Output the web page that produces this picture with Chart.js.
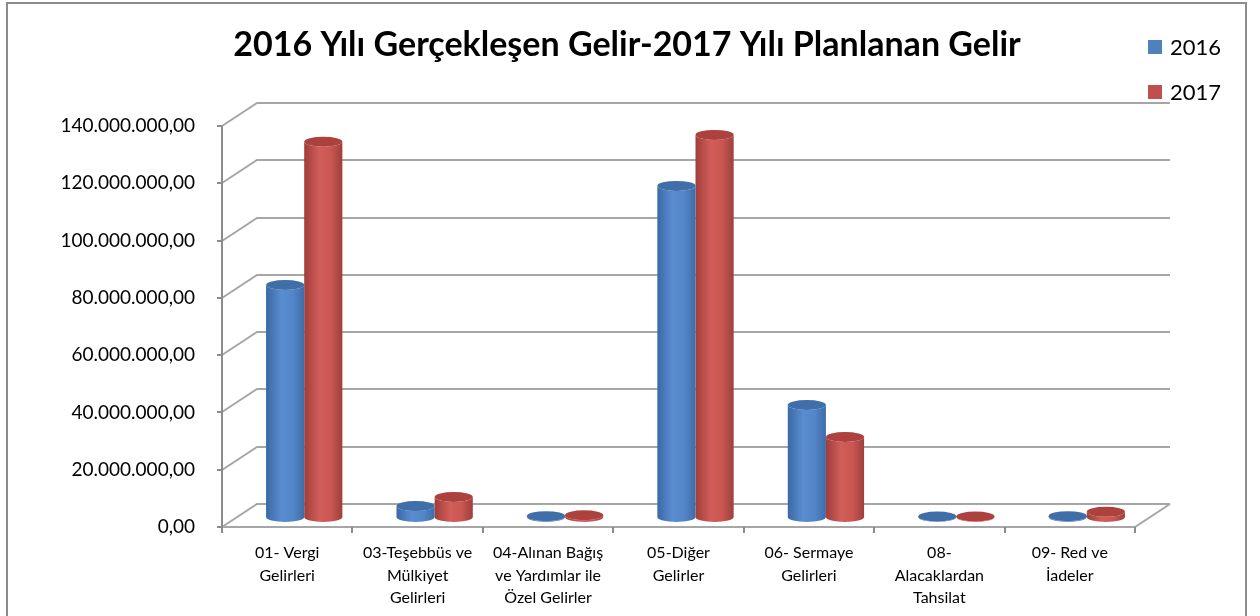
<!DOCTYPE html>
<html>
<head>
<meta charset="utf-8">
<script src="https://cdn.jsdelivr.net/npm/chart.js@4.4.0/dist/chart.umd.min.js"></script>
<style>
  html, body { margin: 0; padding: 0; background: #fff; }
</style>
</head>
<body>
<canvas id="gelirChart" width="1260" height="616"></canvas>
<script>
// Veriler
const chartTitle = '2016 Yılı Gerçekleşen Gelir-2017 Yılı Planlanan Gelir';
const categories = [
    ['01- Vergi', 'Gelirleri'],
    ['03-Teşebbüs ve', 'Mülkiyet', 'Gelirleri'],
    ['04-Alınan Bağış', 've Yardımlar ile', 'Özel Gelirler'],
    ['05-Diğer', 'Gelirler'],
    ['06- Sermaye', 'Gelirleri'],
    ['08-', 'Alacaklardan', 'Tahsilat'],
    ['09- Red ve', 'İadeler']
];
const seriesNames = ['2016', '2017'];
const gelir2016 = [81000000, 3800000, 300000, 115600000, 39100000, 200000, 300000];
const gelir2017 = [131000000, 7000000, 600000, 133400000, 27900000, 200000, 1800000];
const yMax = 140000000;
const yStep = 20000000;

const seriesColors = ['#4F81BD', '#C0504D'];
const bodyStops = [
    ['#3A69A4', '#5A8CD0', '#5386C9', '#3F6CA8'],
    ['#A03D3A', '#D15E5A', '#CA5652', '#9E3F3C']
];
const capColors = ['#3F6EA8', '#AC413E'];

// 3B görünüm için derinlik
const WALL_DX = 35, WALL_DY = -23;
const BAR_DX = 17, BAR_DY = -10;
const CAP_RY = 5;

// 140.000.000,00 biçimi
function trFormat(v) {
    return Math.round(v).toString().replace(/\B(?=(\d{3})+(?!\d))/g, '.') + ',00';
}

const excelLook = {
    id: 'excelLook',
    beforeDatasetsDraw(chart) {
        const ctx = chart.ctx;
        const a = chart.chartArea;
        const y = chart.scales.y;
        ctx.save();
        ctx.strokeStyle = '#A6A6A6';
        ctx.lineWidth = 2;
        // arka duvar çizgileri
        for (let v = 0; v <= yMax; v += yStep) {
            const py = Math.round(y.getPixelForValue(v));
            ctx.beginPath();
            ctx.moveTo(a.left, py);
            ctx.lineTo(a.left + WALL_DX, py + WALL_DY);
            ctx.lineTo(a.right + WALL_DX, py + WALL_DY);
            ctx.stroke();
        }
        // zemin
        const py0 = Math.round(y.getPixelForValue(0));
        ctx.beginPath();
        ctx.moveTo(a.left, py0);
        ctx.lineTo(a.right, py0);
        ctx.lineTo(a.right + WALL_DX, py0 + WALL_DY);
        ctx.stroke();
        // y ekseni
        ctx.strokeStyle = '#8C8C8C';
        ctx.beginPath();
        ctx.moveTo(a.left, Math.round(y.getPixelForValue(yMax)));
        ctx.lineTo(a.left, py0);
        ctx.stroke();
        for (let v = 0; v <= yMax; v += yStep) {
            const py = Math.round(y.getPixelForValue(v));
            ctx.beginPath();
            ctx.moveTo(a.left - 5, py);
            ctx.lineTo(a.left, py);
            ctx.stroke();
        }
        // x ekseni çentikleri
        const w = (a.right - a.left) / categories.length;
        for (let i = 0; i <= categories.length; i++) {
            const px = Math.round(a.left + i * w);
            ctx.beginPath();
            ctx.moveTo(px, py0);
            ctx.lineTo(px, py0 + 6);
            ctx.stroke();
        }
        ctx.restore();
    },
    beforeDatasetDraw(chart, args) {
        const ctx = chart.ctx;
        const i = args.index;
        const stops = bodyStops[i];
        ctx.save();
        chart.getDatasetMeta(i).data.forEach(el => {
            const hw = el.width / 2;
            const cx = el.x + BAR_DX;
            const top = el.y + BAR_DY;
            const bot = el.base + BAR_DY;
            const g = ctx.createLinearGradient(cx - hw, 0, cx + hw, 0);
            g.addColorStop(0, stops[0]);
            g.addColorStop(0.4, stops[1]);
            g.addColorStop(0.7, stops[2]);
            g.addColorStop(1, stops[3]);
            ctx.beginPath();
            ctx.moveTo(cx - hw, top);
            ctx.lineTo(cx - hw, bot);
            ctx.ellipse(cx, bot, hw, CAP_RY, 0, Math.PI, 0, true);
            ctx.lineTo(cx + hw, top);
            ctx.ellipse(cx, top, hw, CAP_RY, 0, 0, Math.PI, false);
            ctx.closePath();
            ctx.fillStyle = g;
            ctx.fill();
            ctx.beginPath();
            ctx.ellipse(cx, top, hw, CAP_RY, 0, 0, Math.PI * 2);
            ctx.fillStyle = capColors[i];
            ctx.fill();
        });
        ctx.restore();
        return false;
    },
    afterDraw(chart) {
        const ctx = chart.ctx;
        ctx.save();
        // çerçeve
        ctx.strokeStyle = '#8C8C8C';
        ctx.lineWidth = 2;
        ctx.strokeRect(7, 3, 1239, 700);
        // başlık
        ctx.fillStyle = '#000';
        ctx.font = 'bold 34px Lato';
        ctx.textAlign = 'center';
        ctx.textBaseline = 'middle';
        ctx.fillText(chartTitle, 627, 45);
        // açıklama
        ctx.font = '22px Lato';
        ctx.textAlign = 'left';
        seriesNames.forEach((name, i) => {
            const ly = 47 + i * 45;
            ctx.fillStyle = seriesColors[i];
            ctx.fillRect(1148, ly - 7, 14, 14);
            ctx.fillStyle = '#000';
            ctx.fillText(name, 1170, ly + 1);
        });
        ctx.restore();
    }
};

new Chart(document.getElementById('gelirChart'), {
    type: 'bar',
    data: {
        labels: categories,
        datasets: [
            { label: seriesNames[0], data: gelir2016, backgroundColor: seriesColors[0] },
            { label: seriesNames[1], data: gelir2017, backgroundColor: seriesColors[1] }
        ]
    },
    options: {
        responsive: false,
        animation: false,
        devicePixelRatio: 1,
        layout: { padding: { left: 0, right: 125, top: 126, bottom: 0 } },
        datasets: { bar: { categoryPercentage: 0.585, barPercentage: 1.0 } },
        plugins: {
            legend: { display: false },
            title: { display: false },
            tooltip: { enabled: false }
        },
        scales: {
            x: {
                grid: { display: false, drawTicks: false },
                border: { display: false },
                ticks: {
                    color: '#000',
                    font: { family: 'Lato', size: 16, lineHeight: 1.4 },
                    padding: 15,
                    maxRotation: 0,
                    autoSkip: false
                },
                afterFit(scale) { scale.height = 89; }
            },
            y: {
                min: 0,
                max: yMax,
                grid: { display: false, drawTicks: false },
                border: { display: false },
                ticks: {
                    stepSize: yStep,
                    color: '#000',
                    padding: 27,
                    font: { family: 'Lato', size: 19 },
                    callback: v => trFormat(v)
                },
                afterFit(scale) { scale.width = 222; }
            }
        }
    },
    plugins: [excelLook]
});
</script>
</body>
</html>
